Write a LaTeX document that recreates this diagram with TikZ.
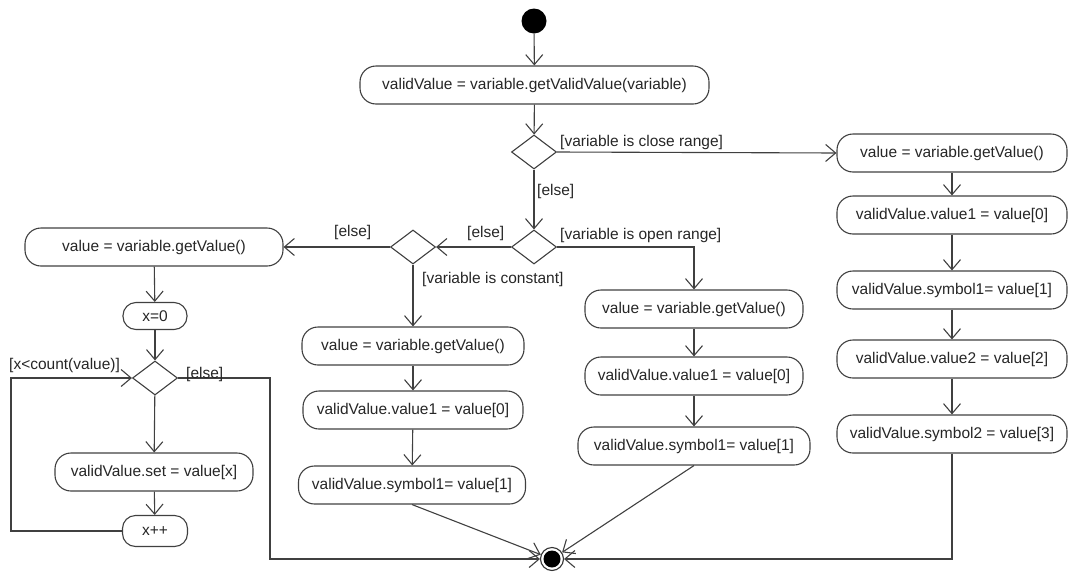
\documentclass[tikz,border=0pt]{standalone}
\usepackage{fontspec}
\setmainfont{Liberation Sans}
\usetikzlibrary{arrows.meta,shapes.geometric}
\begin{document}
\begin{tikzpicture}[x=1pt,y=-1pt,
  every node/.style={font=\fontsize{15.5}{18}\selectfont, text=black!85},
  line/.style={draw=black!75, line width=1.1pt},
  flow/.style={line, -{Straight Barb[length=10pt,width=17pt]}},
  act/.style={draw=black!75, line width=1.1pt, rectangle, rounded corners=16pt,
              minimum height=38pt, inner sep=0pt},
  smallact/.style={act, rounded corners=13pt, minimum height=27pt},
  dec/.style={draw=black!75, line width=1.1pt, diamond, minimum width=45pt,
              minimum height=34pt, inner sep=0pt},
  guard/.style={anchor=west, inner sep=0pt},
]
\useasboundingbox (0,0) rectangle (1072,571);

% initial and final states
\node[circle, fill=black, minimum size=25pt, inner sep=0pt] (start) at (534,21) {};
\node[circle, draw=black!80, line width=1.1pt, minimum size=23pt, inner sep=0pt] (end) at (552,559) {};
\fill (end.center) circle[radius=8.5pt];

% main activity and decisions
\node[act, minimum width=349pt] (b1) at (534.5,85) {validValue = variable.getValidValue(variable)};
\node[dec] (d1) at (534,152) {};
\node[dec] (d2) at (534,247) {};
\node[dec] (d3) at (413,247) {};

% close range branch
\node[act, minimum width=230pt] (r1) at (952,153) {value = variable.getValue()};
\node[act, minimum width=230pt] (r2) at (952,215) {validValue.value1 = value[0]};
\node[act, minimum width=230pt] (r3) at (952,290) {validValue.symbol1= value[1]};
\node[act, minimum width=230pt] (r4) at (952,359) {validValue.value2 = value[2]};
\node[act, minimum width=230pt] (r5) at (952,434) {validValue.symbol2 = value[3]};

% open range branch
\node[act, minimum width=218pt] (m1) at (694,309) {value = variable.getValue()};
\node[act, minimum width=218pt] (m2) at (694,376) {validValue.value1 = value[0]};
\node[act, minimum width=232pt] (m3) at (694,446) {validValue.symbol1= value[1]};

% constant branch
\node[act, minimum width=222pt] (c1) at (413,346) {value = variable.getValue()};
\node[act, minimum width=220pt] (c2) at (413,410) {validValue.value1 = value[0]};
\node[act, minimum width=227pt] (c3) at (412,485) {validValue.symbol1= value[1]};

% list branch with loop
\node[act, minimum width=258pt] (l1) at (154,247) {value = variable.getValue()};
\node[smallact, minimum width=64pt] (l2) at (155,316) {x=0};
\node[dec] (d4) at (155,378) {};
\node[act, minimum width=198pt] (l3) at (154,472) {validValue.set = value[x]};
\node[smallact, minimum width=65pt, minimum height=31pt] (l4) at (155,531) {x++};

\coordinate (lx) at (11,450);
\coordinate (ex) at (270,450);

% connectors
\draw[flow] (start) -- (b1);
\draw[flow] (b1) -- (d1);
\draw[flow] (d1.east) -- (r1.west);
\draw[flow] (d1.south) -- (d2.north);
\draw[flow] (d2.east) -| (m1.north);
\draw[flow] (d2.west) -- (d3.east);
\draw[flow] (d3.south) -- (c1.north);
\draw[flow] (d3.west) -- (l1.east);

\draw[flow] (r1) -- (r2);
\draw[flow] (r2) -- (r3);
\draw[flow] (r3) -- (r4);
\draw[flow] (r4) -- (r5);
\draw[flow] (r5.south) |- (end.east);

\draw[flow] (m1) -- (m2);
\draw[flow] (m2) -- (m3);
\draw[flow] (m3.south) -- (end);

\draw[flow] (c1) -- (c2);
\draw[flow] (c2) -- (c3);
\draw[flow] (c3.south) -- (end);

\draw[flow] (l1) -- (l2);
\draw[flow] (l2) -- (d4);
\draw[flow] (d4) -- (l3);
\draw[flow] (l3) -- (l4);
\draw[flow] (l4.west) -- (l4.west -| lx) -- (d4.west -| lx) -- (d4.west);
\draw[flow] (d4.east) -- (d4.east -| ex) -- (end.west -| ex) -- (end.west);

% guards
\node[guard] (g1) at (560,142) {[variable is close range]};
\node[guard] (g2) at (537,191) {[else]};
\node[guard] (g3) at (560,235) {[variable is open range]};
\node[guard] (g4) at (467,233) {[else]};
\node[guard] (g5) at (422,279) {[variable is constant]};
\node[guard] (g6) at (334,232) {[else]};
\node[guard] (g7) at (9,365) {[x<count(value)]};
\node[guard] (g8) at (186,374) {[else]};
\end{tikzpicture}
\end{document}
